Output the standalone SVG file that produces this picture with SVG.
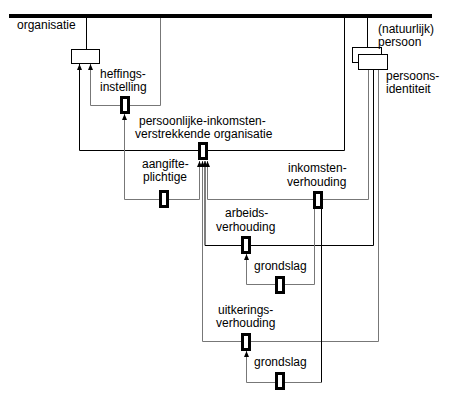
<svg xmlns="http://www.w3.org/2000/svg" width="453" height="406" viewBox="0 0 453 406">
<style>
text{font-family:"Liberation Sans",Arial,sans-serif;font-size:12px;fill:#000}
.k{fill:none;stroke:#000;stroke-width:1}
.g{fill:none;stroke:#777;stroke-width:1}
.ent{fill:#fff;stroke:#000;stroke-width:1}
.role{fill:#fff;stroke:#000;stroke-width:3}
</style>
<defs>
<marker id="ah" viewBox="0 0 6 6" refX="6" refY="3" markerWidth="6" markerHeight="6" markerUnits="userSpaceOnUse" orient="auto-start-reverse">
<path d="M0,0.5 L6,3 L0,5.5 z" fill="#000"/>
</marker>
</defs>
<rect id="bar" x="9" y="14" width="423" height="4" fill="#000"/>
<g id="connectors">
<path class="k" d="M86.5,18 V49.5"/>
<path class="k" d="M367.5,18 V47.5"/>
<path class="g" d="M160.5,18 V105.5 H90.5 V64" marker-end="url(#ah)"/>
<path class="k" d="M344.5,18 V150.5 H79.5 V64" marker-end="url(#ah)"/>
<path class="g" d="M124.5,114 V199.5 H199.5 V161" marker-start="url(#ah)" marker-end="url(#ah)"/>
<path class="g" d="M378.5,70 V341.5 H202.5 V161" marker-end="url(#ah)"/>
<path class="k" d="M373.5,70 V245.5 H205 V161" marker-end="url(#ah)"/>
<path class="g" d="M368.5,70 V199.5 H207.5 V161" marker-end="url(#ah)"/>
<path class="g" d="M314.5,209 V284.5 H246.5 V254" marker-end="url(#ah)"/>
<path class="k" d="M321.5,209 V382.5"/>
<path class="g" d="M321.5,382.5 H246.5 V351" marker-end="url(#ah)"/>
</g>
<g id="organisatie">
<rect class="ent" x="71.5" y="49.5" width="28" height="14"/>
<text x="17" y="29">organisatie</text>
</g>
<g id="persoon">
<rect class="ent" x="352.5" y="47.5" width="29" height="15"/>
<text x="378" y="33">(natuurlijk)</text>
<text x="378" y="46">persoon</text>
</g>
<g id="persoonsidentiteit">
<rect class="ent" x="358.5" y="54.5" width="29" height="15"/>
<text x="386" y="80">persoons-</text>
<text x="386" y="93">identiteit</text>
</g>
<g id="heffingsinstelling">
<rect class="role" x="121.5" y="97.5" width="7" height="15"/>
<text x="100" y="78">heffings-</text>
<text x="100" y="91">instelling</text>
</g>
<g id="persoonlijke-inkomsten-verstrekkende-organisatie">
<rect class="role" x="199.5" y="143.5" width="7" height="15"/>
<text x="139" y="125">persoonlijke-inkomsten-</text>
<text x="135" y="138">verstrekkende organisatie</text>
</g>
<g id="aangifteplichtige">
<rect class="role" x="160.5" y="191.5" width="7" height="15"/>
<text x="142" y="168">aangifte-</text>
<text x="143" y="181">plichtige</text>
</g>
<g id="inkomstenverhouding">
<rect class="role" x="314.5" y="192.5" width="7" height="15"/>
<text x="288" y="172">inkomsten-</text>
<text x="287" y="186">verhouding</text>
</g>
<g id="arbeidsverhouding">
<rect class="role" x="242.5" y="237.5" width="7" height="15"/>
<text x="225" y="217">arbeids-</text>
<text x="216" y="231">verhouding</text>
</g>
<g id="grondslag1">
<rect class="role" x="276.5" y="277.5" width="7" height="15"/>
<text x="254" y="270">grondslag</text>
</g>
<g id="uitkeringsverhouding">
<rect class="role" x="242.5" y="334.5" width="7" height="15"/>
<text x="218" y="314">uitkerings-</text>
<text x="216" y="327">verhouding</text>
</g>
<g id="grondslag2">
<rect class="role" x="276.5" y="373.5" width="7" height="15"/>
<text x="254" y="366">grondslag</text>
</g>
</svg>
